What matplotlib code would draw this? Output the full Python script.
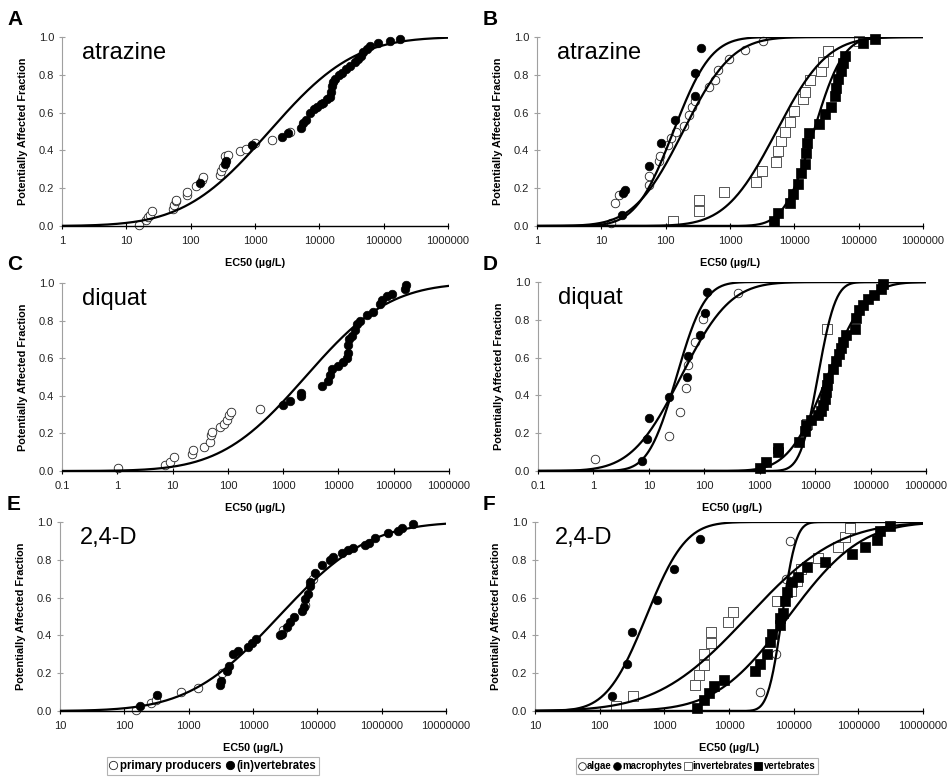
import math
import numpy as np
import matplotlib
matplotlib.use("Agg")
import matplotlib.pyplot as plt
from matplotlib.lines import Line2D

plt.rcParams['font.family'] = 'Liberation Sans'

# ---- panel A: atrazine, primary producers vs (in)vertebrates
a_prim_x = [15.5, 20, 22, 23.5, 25.5, 54, 56, 59, 60, 87, 89, 120, 151, 158, 282, 295, 316,
            339, 380, 575, 724, 1000, 1820, 3470]
a_prim_y = [0.005, 0.03, 0.046, 0.06, 0.08, 0.09, 0.11, 0.13, 0.14, 0.165, 0.18, 0.21, 0.245,
            0.26, 0.27, 0.29, 0.31, 0.37, 0.375, 0.395, 0.41, 0.44, 0.456, 0.50]
a_anim_x = [138, 339, 355, 890, 2630, 3300, 5250, 5620, 6310, 7240, 8320, 9120, 10500, 11500,
            13200, 14800, 15100, 15500, 16600, 17400, 20000, 22400, 26300, 29500, 35500,
            39800, 44700, 47900, 55000, 61700, 81300, 126000, 178000]
a_anim_y = [0.23, 0.33, 0.345, 0.43, 0.47, 0.49, 0.52, 0.545, 0.56, 0.60, 0.62, 0.63, 0.645,
            0.65, 0.67, 0.68, 0.71, 0.74, 0.76, 0.78, 0.80, 0.81, 0.83, 0.845, 0.87, 0.885,
            0.90, 0.92, 0.935, 0.95, 0.97, 0.98, 0.99]
a_fit = (3.22, 1.04)

# ---- panel B: atrazine by group
b_alg_x = [14, 16.6, 19, 55, 56, 78, 83, 107, 123, 145, 195, 234, 257, 282, 479, 575, 646,
           977, 1700, 3240]
b_alg_y = [0.014, 0.124, 0.165, 0.218, 0.266, 0.342, 0.368, 0.43, 0.466, 0.496, 0.527, 0.589,
           0.63, 0.66, 0.736, 0.775, 0.828, 0.881, 0.931, 0.977]
b_mac_x = [21, 22, 23, 56, 85, 138, 282, 282, 355]
b_mac_y = [0.058, 0.175, 0.19, 0.315, 0.44, 0.56, 0.69, 0.81, 0.94]
b_inv_x = [132, 331, 331, 813, 2510, 3160, 5250, 5620, 6310, 7080, 8510, 10000, 13500, 14500,
           17400, 26300, 27500, 33100, 100000]
b_inv_y = [0.027, 0.08, 0.135, 0.18, 0.235, 0.29, 0.34, 0.395, 0.45, 0.50, 0.55, 0.61, 0.67,
           0.71, 0.77, 0.82, 0.87, 0.925, 0.98]
b_ver_x = [4790, 5620, 8510, 9550, 11500, 12900, 14500, 15100, 15800, 17000, 24500, 29500,
           37200, 42700, 44700, 47900, 53700, 57500, 60300, 117000, 178000]
b_ver_y = [0.027, 0.067, 0.12, 0.17, 0.22, 0.28, 0.33, 0.385, 0.44, 0.49, 0.54, 0.59, 0.63,
           0.69, 0.73, 0.78, 0.82, 0.86, 0.90, 0.97, 0.99]
b_fits = [(2.27, 0.6), (2.12, 0.46), (3.72, 0.62), (4.3, 0.36)]

# ---- panel C: diquat, primary producers vs (in)vertebrates
c_prim_x = [1.05, 7.3, 9.1, 10.4, 22.4, 23.4, 36.3, 46.8, 49, 52.5, 70.8, 85, 95.5, 107, 115, 389]
c_prim_y = [0.014, 0.032, 0.05, 0.073, 0.088, 0.11, 0.13, 0.156, 0.19, 0.21, 0.235, 0.25, 0.27,
            0.30, 0.315, 0.33]
c_anim_x = [1000, 1320, 2140, 2140, 5010, 6610, 7080, 7590, 10000, 12300, 14100, 15100, 15100,
            15800, 17400, 20000, 21400, 24500, 32400, 42700, 56200, 60300, 74100, 91200,
            158000, 170000]
c_anim_y = [0.35, 0.37, 0.40, 0.415, 0.45, 0.48, 0.51, 0.54, 0.56, 0.58, 0.60, 0.63, 0.67, 0.70,
            0.72, 0.75, 0.78, 0.80, 0.83, 0.846, 0.89, 0.91, 0.93, 0.94, 0.97, 0.99]
c_fit = (3.4, 1.2)

# ---- panel D: diquat by group
d_alg_x = [1.05, 22.9, 37.2, 46.8, 50.1, 69.2, 93.3, 407]
d_alg_y = [0.063, 0.187, 0.313, 0.437, 0.563, 0.68, 0.806, 0.94]
d_mac_x = [7.5, 9.3, 10.2, 23.4, 49, 50.1, 85, 105, 112]
d_mac_y = [0.053, 0.167, 0.28, 0.39, 0.495, 0.61, 0.72, 0.835, 0.947]
d_inv_x = [7080, 16600]
d_inv_y = [0.25, 0.75]
d_ver_x = [1020, 1320, 2140, 2140, 5130, 6460, 6920, 8510, 11200, 12900, 13800, 14800, 15800,
           16200, 17000, 20900, 24000, 26900, 29500, 31600, 36300, 51300, 55000, 63100, 72400,
           89100, 117000, 155000, 166000]
d_ver_y = [0.014, 0.05, 0.10, 0.123, 0.155, 0.21, 0.243, 0.27, 0.296, 0.32, 0.35, 0.38, 0.42,
           0.455, 0.49, 0.54, 0.58, 0.62, 0.65, 0.68, 0.72, 0.75, 0.81, 0.85, 0.88, 0.91, 0.93,
           0.965, 0.99]
d_fits = [(1.58, 0.7), (1.5, 0.4), (4.05, 0.25), (4.22, 0.55)]

# ---- panel E: 2,4-D, primary producers vs (in)vertebrates
e_prim_x = [151, 257, 316, 759, 1410, 3240, 29500, 64600, 87100]
e_prim_y = [0.005, 0.044, 0.058, 0.10, 0.12, 0.20, 0.43, 0.56, 0.70]
e_anim_x = [178, 324, 3020, 3160, 3890, 4170, 4900, 5750, 8510, 9550, 11200, 26300, 28200,
            33900, 38000, 42700, 57500, 61700, 64600, 72400, 75900, 77600, 91200, 117000,
            158000, 178000, 240000, 302000, 355000, 550000, 631000, 794000, 1260000, 1780000,
            2090000, 3090000]
e_anim_y = [0.026, 0.085, 0.137, 0.16, 0.21, 0.24, 0.30, 0.32, 0.34, 0.36, 0.38, 0.40, 0.41,
            0.445, 0.47, 0.50, 0.53, 0.55, 0.59, 0.62, 0.66, 0.68, 0.73, 0.77, 0.80, 0.815,
            0.835, 0.85, 0.86, 0.88, 0.89, 0.915, 0.94, 0.955, 0.97, 0.99]
e_fit = (4.4, 1.1)

# ---- panel F: 2,4-D by group
f_alg_x = [30200, 52500, 63100, 75900, 87100]
f_alg_y = [0.10, 0.30, 0.50, 0.70, 0.90]
f_mac_x = [155, 269, 316, 776, 1410, 3550]
f_mac_y = [0.08, 0.25, 0.42, 0.585, 0.75, 0.91]
f_inv_x = [178, 324, 2950, 3390, 4070, 4170, 5250, 5250, 9550, 11500, 55000, 91200, 112000,
           132000, 240000, 490000, 617000, 741000]
f_inv_y = [0.025, 0.08, 0.135, 0.19, 0.245, 0.30, 0.36, 0.42, 0.47, 0.525, 0.58, 0.635, 0.69,
           0.75, 0.81, 0.87, 0.92, 0.97]
f_ver_x = [3240, 4070, 4900, 5890, 8510, 25100, 30200, 38900, 42700, 45700, 61700, 61700,
           67600, 74100, 79400, 93300, 117000, 162000, 302000, 794000, 1260000, 1950000,
           2140000, 3090000]
f_ver_y = [0.014, 0.058, 0.093, 0.13, 0.164, 0.21, 0.25, 0.30, 0.365, 0.41, 0.455, 0.49, 0.52,
           0.58, 0.63, 0.68, 0.71, 0.76, 0.79, 0.83, 0.87, 0.905, 0.95, 0.98]
f_fits = [(2.72, 0.48), (4.82, 0.17), (4.29, 1.1), (4.92, 0.88)]

chem_names = ["atrazine", "diquat", "2,4-D"]
panel_letters = ["A", "B", "C", "D", "E", "F"]
x_decades = [(0, 6), (-1, 6), (1, 7)]
y_ticks = [0.0, 0.2, 0.4, 0.6, 0.8, 1.0]

OPEN_C = dict(marker='o', facecolor='white', edgecolor='#222222', linewidths=0.6, s=38)
FILL_C = dict(marker='o', facecolor='black', edgecolor='black', linewidths=0.5, s=38)
OPEN_S = dict(marker='s', facecolor='white', edgecolor='#555555', linewidths=0.7, s=44)
FILL_S = dict(marker='s', facecolor='black', edgecolor='black', linewidths=0.5, s=44)


def lognorm_cdf(logx, mu, sd):
    return np.array([0.5 * (1 + math.erf((v - mu) / (sd * math.sqrt(2)))) for v in logx])


W, H = 952, 777
fig = plt.figure(figsize=(W / 100, H / 100), dpi=100)

# pixel boxes: left, top, right, bottom of the data area
boxes = [(62, 37, 448, 226), (537, 37, 923, 226),
         (62, 283, 449, 471), (538, 282, 926, 471),
         (60, 522, 446, 711), (535, 522, 923, 711)]

panels = [
    ([(a_prim_x, a_prim_y, OPEN_C), (a_anim_x, a_anim_y, FILL_C)], [a_fit]),
    ([(b_alg_x, b_alg_y, OPEN_C), (b_mac_x, b_mac_y, FILL_C),
      (b_inv_x, b_inv_y, OPEN_S), (b_ver_x, b_ver_y, FILL_S)], b_fits),
    ([(c_prim_x, c_prim_y, OPEN_C), (c_anim_x, c_anim_y, FILL_C)], [c_fit]),
    ([(d_alg_x, d_alg_y, OPEN_C), (d_mac_x, d_mac_y, FILL_C),
      (d_inv_x, d_inv_y, OPEN_S), (d_ver_x, d_ver_y, FILL_S)], d_fits),
    ([(e_prim_x, e_prim_y, OPEN_C), (e_anim_x, e_anim_y, FILL_C)], [e_fit]),
    ([(f_alg_x, f_alg_y, OPEN_C), (f_mac_x, f_mac_y, FILL_C),
      (f_inv_x, f_inv_y, OPEN_S), (f_ver_x, f_ver_y, FILL_S)], f_fits),
]

for i, (series, fits) in enumerate(panels):
    l, t, r, b = boxes[i]
    ax = fig.add_axes([l / W, 1 - b / H, (r - l) / W, (b - t) / H])
    row = i // 2
    lo, hi = x_decades[row]

    for xs, ys, style in series:
        ax.scatter(xs, ys, zorder=2, clip_on=False, **style)

    grid = np.linspace(lo, hi, 400)
    for mu, sd in fits:
        ax.plot(10 ** grid, lognorm_cdf(grid, mu, sd), color='black', lw=1.6, zorder=3)

    ax.set_xscale('log')
    ax.set_xlim(10 ** lo, 10 ** hi)
    ax.set_ylim(0, 1)
    xt = [10.0 ** e for e in range(lo, hi + 1)]
    ax.set_xticks(xt)
    ax.set_xticklabels(['0.1' if e < 0 else str(10 ** e) for e in range(lo, hi + 1)])
    ax.xaxis.set_minor_locator(matplotlib.ticker.NullLocator())
    ax.set_yticks(y_ticks)
    ax.set_yticklabels([f"{v:.1f}" for v in y_ticks])

    for s in ['top', 'right']:
        ax.spines[s].set_visible(False)
    ax.spines['left'].set_color('#a0a0a0')
    ax.spines['left'].set_linewidth(0.8)
    ax.spines['bottom'].set_color('black')
    ax.spines['bottom'].set_linewidth(1.0)
    ax.tick_params(axis='y', direction='inout', length=5, width=0.8, color='#a0a0a0',
                   labelsize=8, labelcolor='#222222', pad=3)
    ax.tick_params(axis='x', direction='inout', length=5, width=0.8, color='black',
                   labelsize=8, labelcolor='#222222', pad=5)

    ax.set_ylabel("Potentially Affected Fraction", fontsize=7.8, fontweight='bold')
    ax.yaxis.set_label_coords(-34 / (r - l), 0.5)
    ax.set_xlabel("EC50 (µg/L)", fontsize=7.8, fontweight='bold')
    ax.xaxis.set_label_coords(0.5, -37 / (b - t))
    ax.xaxis.label.set_verticalalignment('center')

    ax.text(20 / (r - l), 1 - 22 / (b - t), chem_names[row], transform=ax.transAxes,
            fontsize=17, ha='left', va='baseline')

    fig.text((7 if i % 2 == 0 else 483) / W, 1 - [25, 270, 510][row] / H, panel_letters[i],
             fontsize=15, fontweight='bold', ha='left', va='baseline')


def handle(style, ms):
    return Line2D([], [], linestyle='none', marker=style['marker'], markersize=ms,
                  markerfacecolor=style['facecolor'], markeredgecolor=style['edgecolor'],
                  markeredgewidth=0.6)


lg1 = fig.legend([handle(OPEN_C, 6), handle(FILL_C, 6)],
                 ["primary producers", "(in)vertebrates"],
                 ncol=2, bbox_to_anchor=(213 / W, 1 - 766 / H), loc='center',
                 frameon=True, fancybox=False, edgecolor='#a0a0a0',
                 prop={'size': 8.3, 'weight': 'bold'}, handlelength=0.7, handletextpad=0.25,
                 columnspacing=0.35, borderpad=0.25, borderaxespad=0)
lg1.get_frame().set_linewidth(0.8)
lg2 = fig.legend([handle(OPEN_C, 5.5), handle(FILL_C, 5.5), handle(OPEN_S, 5.5),
                  handle(FILL_S, 5.5)],
                 ["algae", "macrophytes", "invertebrates", "vertebrates"],
                 ncol=4, bbox_to_anchor=(697 / W, 1 - 766 / H), loc='center',
                 frameon=True, fancybox=False, edgecolor='#a0a0a0',
                 prop={'size': 6.9, 'weight': 'bold'}, handlelength=0.7, handletextpad=0.2,
                 columnspacing=0.2, borderpad=0.3, borderaxespad=0)
lg2.get_frame().set_linewidth(0.8)

fig.savefig("out.png", dpi=100)
